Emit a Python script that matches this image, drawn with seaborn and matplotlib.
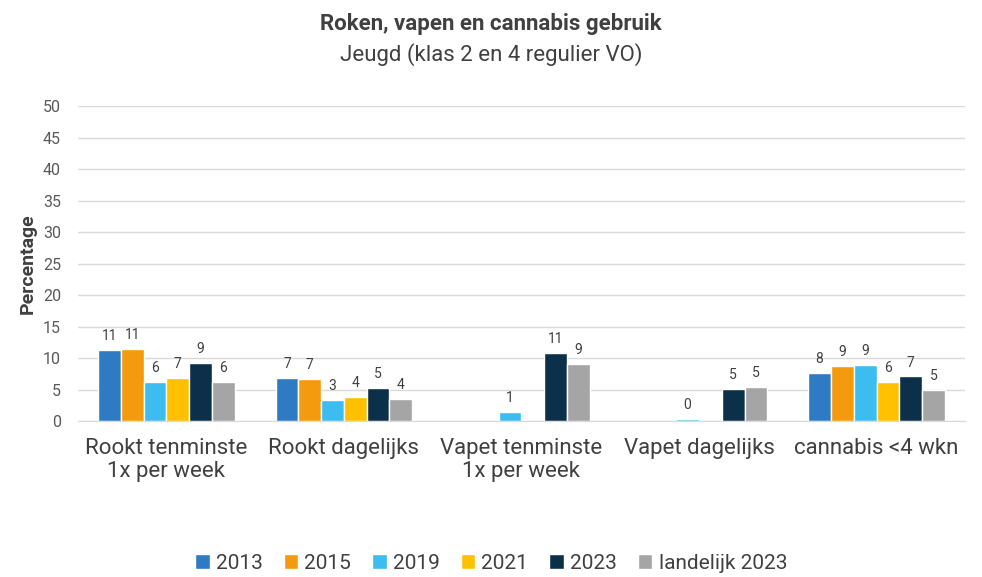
import numpy as np
import pandas as pd
import matplotlib
matplotlib.use("Agg")
import matplotlib.pyplot as plt
import seaborn as sns

# data
categories = ["Rookt tenminste\n1x per week", "Rookt dagelijks", "Vapet tenminste\n1x per week",
              "Vapet dagelijks", "cannabis <4 wkn"]
years = ["2013", "2015", "2019", "2021", "2023", "landelijk 2023"]
v2013 = [11.3, 6.8, np.nan, np.nan, 7.6]
v2015 = [11.4, 6.7, np.nan, np.nan, 8.8]
v2019 = [6.2, 3.3, 1.4, 0.4, 8.9]
v2021 = [6.8, 3.8, np.nan, np.nan, 6.3]
v2023 = [9.2, 5.3, 10.8, 5.1, 7.1]
vland = [6.2, 3.5, 9.1, 5.4, 4.9]
colors = ["#2E7BC4", "#F39A0F", "#3DBDEF", "#FFC000", "#0C3049", "#A5A5A5"]

rows = []
for year, vals in zip(years, [v2013, v2015, v2019, v2021, v2023, vland]):
    for cat, v in zip(categories, vals):
        rows.append({"categorie": cat, "jaar": year, "waarde": v})
df = pd.DataFrame(rows)

sns.set_style("white")
plt.rcParams["font.family"] = ["Roboto", "DejaVu Sans"]

fig = plt.figure(figsize=(9.82, 5.77), dpi=100)
ax = fig.add_axes([0.079, 0.27, 0.904, 0.546])

sns.barplot(data=df, x="categorie", y="waarde", hue="jaar", order=categories,
            hue_order=years, palette=colors, saturation=1, width=0.77,
            edgecolor="white", linewidth=1, ax=ax)

for cont in ax.containers:
    ax.bar_label(cont, fmt="{:.0f}", padding=5, fontsize=10, color="#404040")

ax.set_ylim(0, 50)
ax.set_yticks(range(0, 51, 5))
ax.yaxis.grid(True, color="#D9D9D9", linewidth=1)
ax.set_axisbelow(True)
for s in ["top", "right", "left"]:
    ax.spines[s].set_visible(False)
ax.spines["bottom"].set_color("#D9D9D9")
ax.tick_params(axis="y", labelsize=11.5, labelcolor="#595959", length=0, pad=12)
ax.tick_params(axis="x", labelsize=16, labelcolor="#404040", length=0, pad=12)
for lab in ax.get_xticklabels():
    lab.set_linespacing(1.15)
ax.set_xlabel("")
ax.set_ylabel("Percentage", fontsize=14, fontweight="bold", color="#404040", labelpad=4)

fig.text(0.5, 0.958, "Roken, vapen en cannabis gebruik", ha="center", va="center",
         fontsize=16, fontweight="bold", color="#404040")
fig.text(0.5, 0.905, "Jeugd (klas 2 en 4 regulier VO)", ha="center", va="center",
         fontsize=16, color="#404040")

ax.legend(loc="lower center", bbox_to_anchor=(0.5, -0.025), bbox_transform=fig.transFigure,
          ncol=6, frameon=False, fontsize=15, handlelength=0.7, handleheight=0.7,
          handletextpad=0.3, columnspacing=1.0, labelcolor="#404040")

fig.savefig("out.png", dpi=100)
